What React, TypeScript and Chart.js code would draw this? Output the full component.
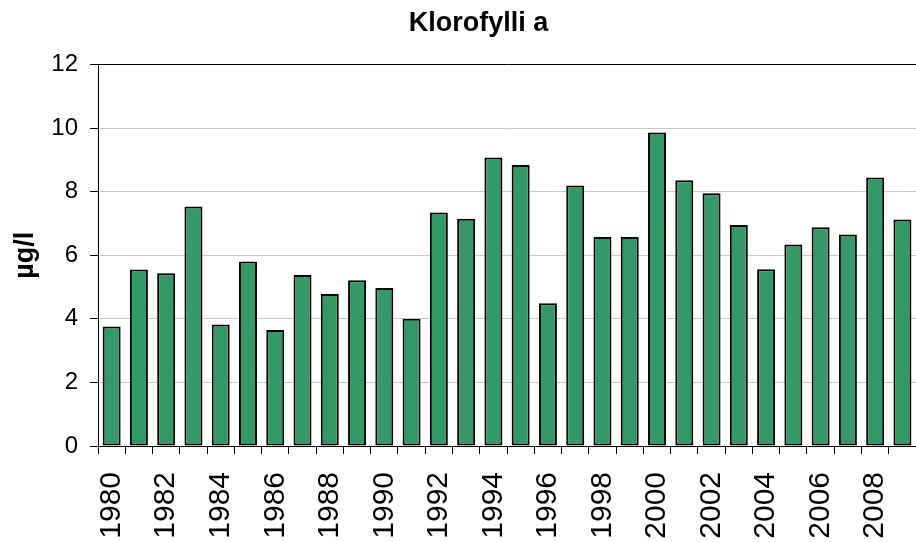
import React, { useEffect, useRef } from 'react';
import { Chart, registerables } from 'chart.js';

Chart.register(...registerables);

const years: string[] = [
  '1980', '1981', '1982', '1983', '1984', '1985', '1986', '1987', '1988', '1989',
  '1990', '1991', '1992', '1993', '1994', '1995', '1996', '1997', '1998', '1999',
  '2000', '2001', '2002', '2003', '2004', '2005', '2006', '2007', '2008', '2009',
];

const chlorophyll: number[] = [
  3.76, 5.55, 5.43, 7.53, 3.82, 5.80, 3.65, 5.38, 4.78, 5.21,
  4.97, 4.00, 7.34, 7.15, 9.07, 8.84, 4.49, 8.19, 6.57, 6.57,
  9.86, 8.36, 7.95, 6.95, 5.56, 6.34, 6.88, 6.65, 8.44, 7.12,
];

const yTicks: number[] = [0, 2, 4, 6, 8, 10, 12];
const titleText = 'Klorofylli a';
const yAxisLabel = 'µg/l';

const FAMILY = '"Liberation Sans", Arial, Helvetica, sans-serif';

export default function App() {
  const ref = useRef<HTMLCanvasElement>(null);

  useEffect(() => {
    if (!ref.current) return;
    const chart = new Chart(ref.current, {
      type: 'bar',
      data: {
        labels: years,
        datasets: [
          {
            label: titleText,
            data: chlorophyll,
            backgroundColor: '#339966',
            borderColor: '#000000',
            borderWidth: 2,
            borderSkipped: false,
            barPercentage: 0.66,
            categoryPercentage: 1,
          },
        ],
      },
      options: {
        responsive: false,
        animation: false,
        devicePixelRatio: 1,
        layout: { padding: 0 },
        plugins: {
          legend: { display: false },
          tooltip: { enabled: false },
          title: {
            display: true,
            text: titleText,
            color: '#000000',
            font: { family: FAMILY, size: 27, weight: 'bold' },
            padding: { top: 7, bottom: 25 },
          },
        },
        scales: {
          x: {
            grid: {
              offset: true,
              drawOnChartArea: false,
              color: '#000000',
              tickLength: 8,
            },
            border: { color: '#000000', width: 1 },
            ticks: {
              autoSkip: false,
              minRotation: 90,
              maxRotation: 90,
              padding: 18,
              color: '#000000',
              font: { family: FAMILY, size: 30 },
              callback: (_v: any, i: number) => (i % 2 === 0 ? years[i] : ''),
            },
            afterFit: (s: any) => {
              s.height = 96;
            },
          },
          y: {
            min: 0,
            max: 12,
            afterBuildTicks: (s: any) => {
              s.ticks = yTicks.map((v) => ({ value: v }));
            },
            ticks: {
              padding: 12,
              color: '#000000',
              font: { family: FAMILY, size: 24 },
            },
            grid: {
              color: (ctx: any) => (ctx.tick && ctx.tick.value === 12 ? '#000000' : '#c8c8c8'),
              tickColor: '#000000',
              tickLength: 8,
              lineWidth: 1,
            },
            border: { color: '#000000', width: 1 },
            title: {
              display: true,
              text: yAxisLabel,
              color: '#000000',
              font: { family: FAMILY, size: 27, weight: 'bold' },
              padding: { top: 9, bottom: 0 },
            },
            afterFit: (s: any) => {
              s.width = 98;
            },
          },
          y2: {
            position: 'right',
            display: true,
            grid: { display: false },
            border: { display: false },
            ticks: { display: false },
            afterFit: (s: any) => {
              s.width = 34;
            },
          },
        },
      } as any,
    });
    return () => chart.destroy();
  }, []);

  return (
    <div
      style={{
        position: 'fixed',
        left: 0,
        top: 0,
        width: 916,
        height: 542,
        overflow: 'hidden',
        background: '#ffffff',
      }}
    >
      <canvas ref={ref} width={957} height={542} style={{ display: 'block' }} />
    </div>
  );
}
